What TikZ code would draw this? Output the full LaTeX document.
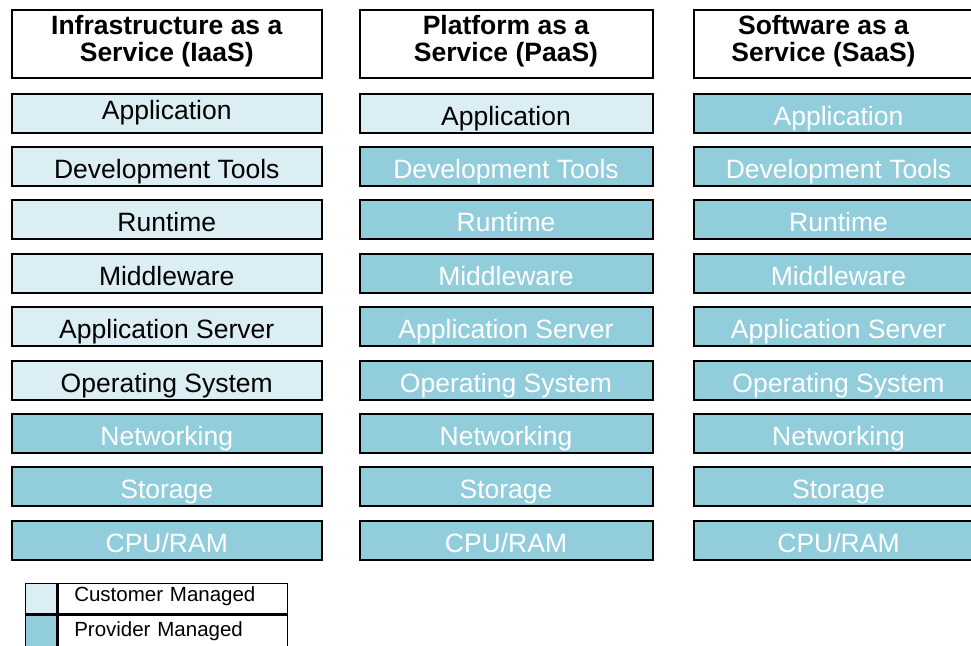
\documentclass[tikz,border=0pt]{standalone}
\usepackage{fontspec}
\setmainfont{Liberation Sans}
\definecolor{cust}{HTML}{DAEEF3}
\definecolor{prov}{HTML}{92CDDC}
\tikzset{
  layercell/.style={draw=black, line width=2pt, minimum height=39pt, anchor=north west,
    inner sep=0pt, text height=24pt, text depth=0pt, font=\fontsize{26.5}{28}\selectfont},
  custbox/.style={layercell, fill=cust, text=black},
  custboxA/.style={custbox, text height=12pt},
  provbox/.style={layercell, fill=prov, text=white},
  headbox/.style={draw=black, line width=2pt, fill=white, minimum height=68.5pt,
    anchor=north west, inner sep=0pt, align=center, text height=36pt, text depth=0pt,
    font=\bfseries\fontsize{26.5}{27.7}\selectfont},
  colA/.style={minimum width=310.5pt},
  colB/.style={minimum width=293pt},
  colC/.style={minimum width=290pt},
  legsw/.style={draw=black, line width=1.5pt, anchor=north west, inner sep=0pt,
    minimum width=31.5pt},
  legtxt/.style={draw=black, line width=1.5pt, anchor=north west, inner xsep=16pt,
    inner ysep=0pt, text width=197pt, align=left, text height=7pt, text depth=0pt,
    font=\fontsize{20.5}{22}\selectfont},
}
\begin{document}
\begin{tikzpicture}[x=1pt,y=-1pt]
\useasboundingbox (0,0) rectangle (971,645);
\clip (0,0) rectangle (971,645);
% headers
\node[headbox, colA] (h1) at (10.5,8.5) {Infrastructure as a\\Service (IaaS)};
\node[headbox, colB] (h2) at (358.5,8.5) {Platform as a\\Service (PaaS)};
\node[headbox, colC] (h3) at (692.5,8.5) {Software as a\rule{30pt}{0pt}\\Service (SaaS)\rule{30pt}{0pt}};
% layers
\foreach \t/\sa/\sb/\sc [count=\i from 0] in {
  Application/custboxA/custbox/provbox,
  Development Tools/custbox/provbox/provbox,
  Runtime/custbox/provbox/provbox,
  Middleware/custbox/provbox/provbox,
  Application Server/custbox/provbox/provbox,
  Operating System/custbox/provbox/provbox,
  Networking/provbox/provbox/provbox,
  Storage/provbox/provbox/provbox,
  {CPU/RAM}/provbox/provbox/provbox}{
  \node[\sa, colA] (a\i) at (10.5,{92.5+53.4*\i}) {\t};
  \node[\sb, colB] (b\i) at (358.5,{92.5+53.4*\i}) {\t};
  \node[\sc, colC] (c\i) at (692.5,{92.5+53.4*\i}) {\t};
}
% legend
\node[legsw, fill=cust, minimum height=30.4pt] (lsw1) at (24.5,582.5) {};
\node[legtxt, minimum height=30.4pt] (ltx1) at (lsw1.north east) {Customer Managed};
\node[legsw, fill=prov, minimum height=34pt] (lsw2) at (lsw1.south west) {};
\node[legtxt, minimum height=34pt, text height=9pt] (ltx2) at (lsw2.north east) {Provider Managed};
\end{tikzpicture}
\end{document}
